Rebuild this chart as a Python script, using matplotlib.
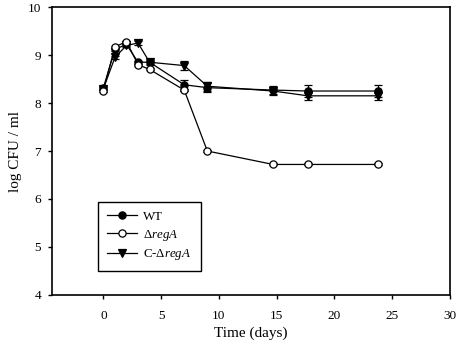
import matplotlib
matplotlib.use("Agg")
import matplotlib.pyplot as plt

# Данные
days = [0, 1, 2, 3, 4, 7, 9, 14.7, 17.7, 23.8]
wt = [8.32, 9.12, 9.22, 8.85, 8.85, 8.38, 8.32, 8.27, 8.25, 8.25]
wt_err = [0.03, 0.03, 0.03, 0.03, 0.03, 0.1, 0.1, 0.08, 0.13, 0.13]
delta = [8.26, 9.17, 9.28, 8.8, 8.7, 8.27, 7.0, 6.72, 6.72, 6.72]
delta_err = [0.02, 0.02, 0.02, 0.02, 0.02, 0.02, 0.02, 0.02, 0.02, 0.02]
comp = [8.3, 8.95, 9.2, 9.25, 8.85, 8.78, 8.35, 8.25, 8.15, 8.15]
comp_err = [0.03, 0.03, 0.03, 0.05, 0.05, 0.09, 0.09, 0.09, 0.09, 0.09]

plt.rcParams['font.family'] = ['Liberation Serif', 'DejaVu Serif']
plt.rcParams['mathtext.fontset'] = 'custom'
plt.rcParams['mathtext.it'] = 'Liberation Serif:italic'
plt.rcParams['mathtext.rm'] = 'Liberation Serif'

fig = plt.figure(figsize=(4.59, 3.52), dpi=100)
ax = fig.add_axes([0.1133, 0.162, 0.8667, 0.818])

style = dict(color='black', linewidth=0.9, markersize=5.2, elinewidth=0.9,
             capsize=3, capthick=0.9, markeredgecolor='black', markeredgewidth=0.9)

c1 = ax.errorbar(days, wt, yerr=wt_err, marker='o', markerfacecolor='black',
                 zorder=3, **style)
c2 = ax.errorbar(days, delta, yerr=delta_err, marker='o', markerfacecolor='white',
                 zorder=4, **style)
c3 = ax.errorbar(days, comp, yerr=comp_err, marker='v', markerfacecolor='black',
                 zorder=2, **style)

ax.set_xlim(-4.45, 30)
ax.set_ylim(4, 10)
ax.set_xticks([0, 5, 10, 15, 20, 25, 30])
ax.set_yticks([4, 5, 6, 7, 8, 9, 10])
ax.tick_params(direction='out', length=3, width=1, labelsize=9.5)
ax.tick_params(axis='x', pad=8)
ax.tick_params(axis='y', pad=5)
for s in ax.spines.values():
    s.set_linewidth(1.2)

ax.set_xlabel('Time (days)', fontsize=11, labelpad=3)
ax.set_ylabel('log CFU / ml', fontsize=11, labelpad=4)

leg = ax.legend([c1.lines[0], c2.lines[0], c3.lines[0]],
                ['WT', r'$\Delta$$\mathit{regA}$', r'C-$\Delta$$\mathit{regA}$'],
                loc='lower left', bbox_to_anchor=(0.116, 0.083), fontsize=9.3,
                frameon=True, fancybox=False, edgecolor='black', framealpha=1,
                handlelength=2.3, handletextpad=0.5, borderpad=0.7,
                labelspacing=0.35, borderaxespad=0)
leg.get_frame().set_linewidth(1.0)

fig.savefig('out.png', dpi=100)
